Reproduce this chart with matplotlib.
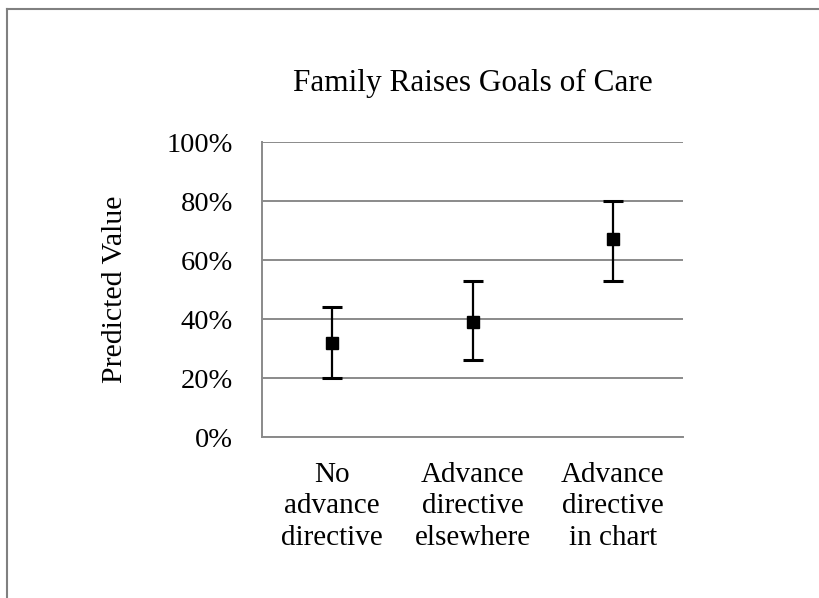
import numpy as np
import matplotlib.pyplot as plt
from matplotlib.lines import Line2D
from matplotlib.ticker import PercentFormatter

plt.rcParams['font.family'] = ['Liberation Serif', 'DejaVu Serif']

groups = ['No\nadvance\ndirective', 'Advance\ndirective\nelsewhere', 'Advance\ndirective\nin chart']
predicted = [32, 39, 67]
lower = [20, 26, 53]
upper = [44, 53, 80]

x = np.arange(len(groups))
yerr = [np.array(predicted) - np.array(lower), np.array(upper) - np.array(predicted)]

fig = plt.figure(figsize=(8.19, 5.98), dpi=100)
ax = fig.add_axes([0.320, 0.2692, 0.514, 0.4933])

ax.errorbar(x, predicted, yerr=yerr, fmt='s', color='black', markersize=8,
            ecolor='black', elinewidth=1.6, capsize=7, capthick=2.2, zorder=3)

ax.set_xlim(-0.5, 2.5)
ax.set_ylim(0, 100)
ax.set_yticks(np.arange(0, 101, 20))
ax.yaxis.set_major_formatter(PercentFormatter(decimals=0))
ax.set_xticks(x)
ax.set_xticklabels(groups, linespacing=1.27, fontsize=21)
ax.tick_params(axis='both', length=0)
ax.tick_params(axis='y', labelsize=20.5, pad=21)
ax.tick_params(axis='x', pad=18)

ax.grid(axis='y', color='#8a8a8a', linewidth=1.4)
ax.set_axisbelow(True)
for side in ['top', 'right']:
    ax.spines[side].set_visible(False)
for side in ['left', 'bottom']:
    ax.spines[side].set_color('#8a8a8a')
    ax.spines[side].set_linewidth(1.4)

ax.set_ylabel('Predicted Value', fontsize=21.5, labelpad=28)
ax.set_title('Family Raises Goals of Care', fontsize=22.5, pad=37)

# outer frame edges
fig.add_artist(Line2D([0.008, 1.0], [0.985, 0.985], color='#808080', linewidth=1.5))
fig.add_artist(Line2D([0.008, 0.008], [0.0, 0.985], color='#808080', linewidth=1.5))

fig.savefig('out.png', dpi=100)
